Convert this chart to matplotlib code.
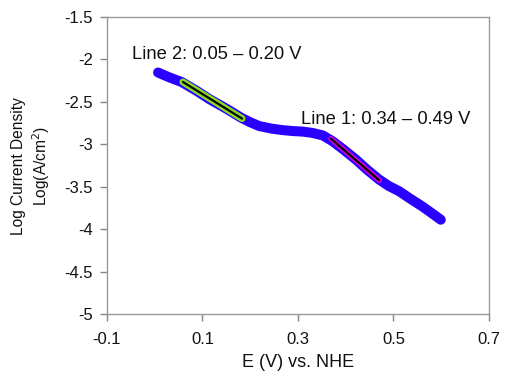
import matplotlib
matplotlib.use("Agg")
import matplotlib.pyplot as plt

plt.rcParams['font.family'] = ['Liberation Sans', 'DejaVu Sans']

E = [0.007, 0.03, 0.056, 0.085, 0.115, 0.15, 0.181, 0.20, 0.219, 0.245, 0.267, 0.29,
     0.31, 0.33, 0.352, 0.372, 0.395, 0.421, 0.445, 0.47, 0.49, 0.512, 0.535, 0.56,
     0.58, 0.599]
logI = [-2.154, -2.21, -2.265, -2.36, -2.469, -2.58, -2.686, -2.74, -2.785, -2.815,
        -2.832, -2.844, -2.85, -2.865, -2.895, -2.962, -3.06, -3.178, -3.30, -3.415,
        -3.49, -3.553, -3.64, -3.73, -3.81, -3.888]

line2_E = [0.059, 0.183]
line2_L = [-2.265, -2.697]
line1_E = [0.369, 0.470]
line1_L = [-2.934, -3.423]

xticks = [-0.1, 0.1, 0.3, 0.5, 0.7]
xticklabels = ['-0.1', '0.1', '0.3', '0.5', '0.7']
yticks = [-5, -4.5, -4, -3.5, -3, -2.5, -2, -1.5]
yticklabels = ['-5', '-4.5', '-4', '-3.5', '-3', '-2.5', '-2', '-1.5']

fig = plt.figure(figsize=(5.07, 3.78), dpi=100)
ax = fig.add_axes([0.211, 0.169, 0.7535, 0.786])

ax.plot(E, logI, color='#2a00ff', lw=7.2, solid_capstyle='round', solid_joinstyle='round', zorder=2)
ax.plot(line2_E, line2_L, color='#88dd22', lw=5.0, solid_capstyle='round', zorder=3)
ax.plot(line2_E, line2_L, color='black', lw=1.6, solid_capstyle='round', zorder=4)
ax.plot(line1_E, line1_L, color='#dd00dd', lw=3.8, solid_capstyle='round', zorder=3)
ax.plot(line1_E, line1_L, color='black', lw=1.6, solid_capstyle='round', zorder=4)

ax.text(-0.048, -2.0, 'Line 2: 0.05 \u2013 0.20 V', fontsize=13.2, ha='left', va='baseline',
        color='#111111')
ax.text(0.307, -2.765, 'Line 1: 0.34 \u2013 0.49 V', fontsize=13.2, ha='left', va='baseline',
        color='#111111')

ax.set_xlim(-0.1, 0.7)
ax.set_ylim(-5, -1.5)
ax.set_xticks(xticks)
ax.set_xticklabels(xticklabels, fontsize=12, color='#111111')
ax.set_yticks(yticks)
ax.set_yticklabels(yticklabels, fontsize=12, color='#111111')
ax.tick_params(direction='out', length=5, color='#888888', width=1, pad=5)
ax.tick_params(axis='x', pad=8)
for s in ax.spines.values():
    s.set_color('#999999')
    s.set_linewidth(1)

ax.set_xlabel('E (V) vs. NHE', fontsize=13, labelpad=5, color='#111111')
ax.set_ylabel('Log Current Density\nLog(A/cm$^{2}$)', fontsize=11.2, labelpad=9,
              color='#111111', linespacing=1.25)

fig.savefig('out.png', dpi=100)
